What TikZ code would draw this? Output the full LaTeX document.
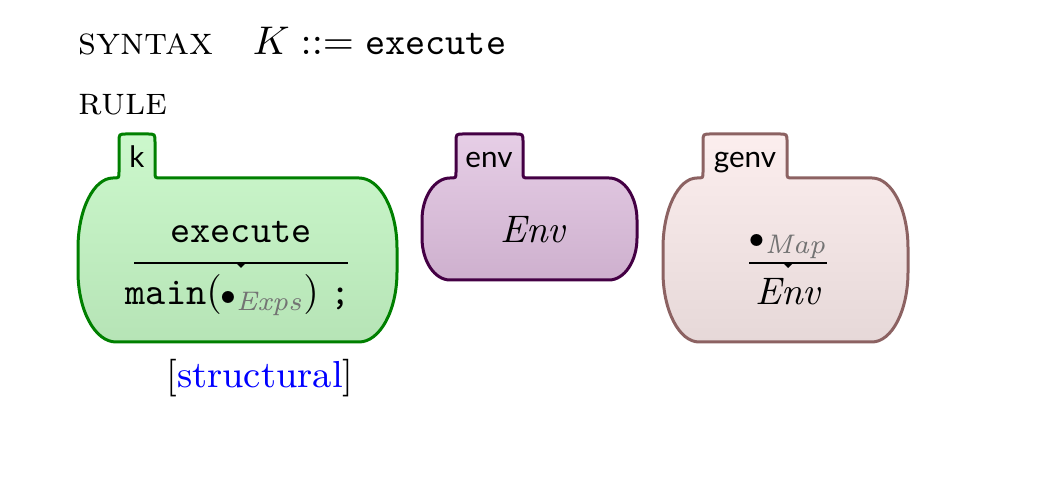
\documentclass[tikz,border=0pt]{standalone}
\usepackage{amsmath}
\usepackage{fontspec}
\usepackage{tikz}
\newfontfamily\cellfont{Lato}
\definecolor{kgreen}{RGB}{0,128,0}
\definecolor{greentop}{RGB}{204,248,204}
\definecolor{greenbot}{RGB}{182,228,182}
\definecolor{envdraw}{RGB}{68,0,68}
\definecolor{envtop}{RGB}{230,206,230}
\definecolor{envbot}{RGB}{206,176,206}
\definecolor{genvdraw}{RGB}{140,98,98}
\definecolor{genvtop}{RGB}{252,238,238}
\definecolor{genvbot}{RGB}{230,216,216}
\tikzstyle{cellk}=[draw=kgreen, line width=0.75pt, top color=greentop, bottom color=greenbot]
\tikzstyle{cellenv}=[draw=envdraw, line width=0.75pt, top color=envtop, bottom color=envbot]
\tikzstyle{cellgenv}=[draw=genvdraw, line width=0.75pt, top color=genvtop, bottom color=genvbot]
\tikzstyle{celllabel}=[anchor=base, font=\cellfont\fontsize{7.4}{8}\selectfont]
\tikzstyle{cellterm}=[anchor=base, font=\fontsize{9.6}{11}\selectfont]
\tikzstyle{rewrite}=[line width=0.3pt]
\newcommand{\hole}[1]{{\mkern-1mu\scriptstyle\bullet}_{\color{black!55}\mathit{#1}}}
% body of a cell: left, right, top, bottom, tab left, tab right, tab top, x radius, y radius
\newcommand{\cellbody}[9]{(#1,{#3+#9}) .. controls (#1,{#3+0.45*#9}) and ({#1+0.45*(#5-6-#1)},#3) .. ({#5-6},#3)
  .. controls (#5,#3) .. (#5,{#3-6}) -- (#5,{#7+8}) .. controls (#5,#7) .. ({#5+8},#7)
  -- ({#6-8},#7) .. controls (#6,#7) .. (#6,{#7+8}) -- (#6,{#3-6}) .. controls (#6,#3) .. ({#6+6},#3)
  -- ({#2-#8},#3) .. controls ({#2-0.45*#8},#3) and (#2,{#3+0.45*#9}) .. (#2,{#3+#9})
  -- (#2,{#4-#9}) .. controls (#2,{#4-0.45*#9}) and ({#2-0.45*#8},#4) .. ({#2-#8},#4)
  -- ({#1+#8},#4) .. controls ({#1+0.45*#8},#4) and (#1,{#4-0.45*#9}) .. (#1,{#4-#9}) -- cycle}

\begin{document}
\begin{tikzpicture}[x=0.25pt, y=-0.25pt, every node/.style={inner sep=0pt}]
    \useasboundingbox (0,0) rectangle (1048,500);
    \node[anchor=base west, font=\fontsize{9.8}{12}\selectfont] (syntax) at (78,55) {\textsc{syntax}};
    \node[anchor=base west, font=\fontsize{9.6}{12}\selectfont] (production) at (252,55) {$K ::= \texttt{execute}$};
    \node[anchor=base west, font=\fontsize{9.8}{12}\selectfont] (rule) at (78,115) {\textsc{rule}};

    % k cell
    \draw[cellk] \cellbody{78}{397}{178}{342}{119}{155}{134}{38}{70};
    \node[celllabel] (klabel) at (137,168) {k};
    \node[cellterm] (klhs) at (241,243) {\texttt{execute}};
    \draw[rewrite] (134,263) -- (348,263);
    \fill (236,263) -- (246,263) -- (241,268) -- cycle;
    \node[cellterm] (krhs) at (238,305) {\texttt{main}$(\hole{Exps})\;$\texttt{;}};
    \node[anchor=base, font=\fontsize{9.4}{11}\selectfont] (attr) at (260,388) {[\textcolor{blue}{structural}]};

    % env cell
    \draw[cellenv] \cellbody{422}{637}{178}{280}{456}{523}{134}{28}{42};
    \node[celllabel] (envlabel) at (489,168) {env};
    \node[cellterm] (envterm) at (533,243) {$\mathit{Env}$};

    % genv cell
    \draw[cellgenv] \cellbody{663}{908}{178}{342}{703}{787}{134}{36}{70};
    \node[celllabel] (genvlabel) at (745,168) {genv};
    \node[cellterm] (genvlhs) at (789,248) {$\hole{Map}$};
    \draw[rewrite] (749,263) -- (827,263);
    \fill (783,263) -- (793,263) -- (788,268) -- cycle;
    \node[cellterm] (genvrhs) at (788,305) {$\mathit{Env}$};
\end{tikzpicture}
\end{document}
